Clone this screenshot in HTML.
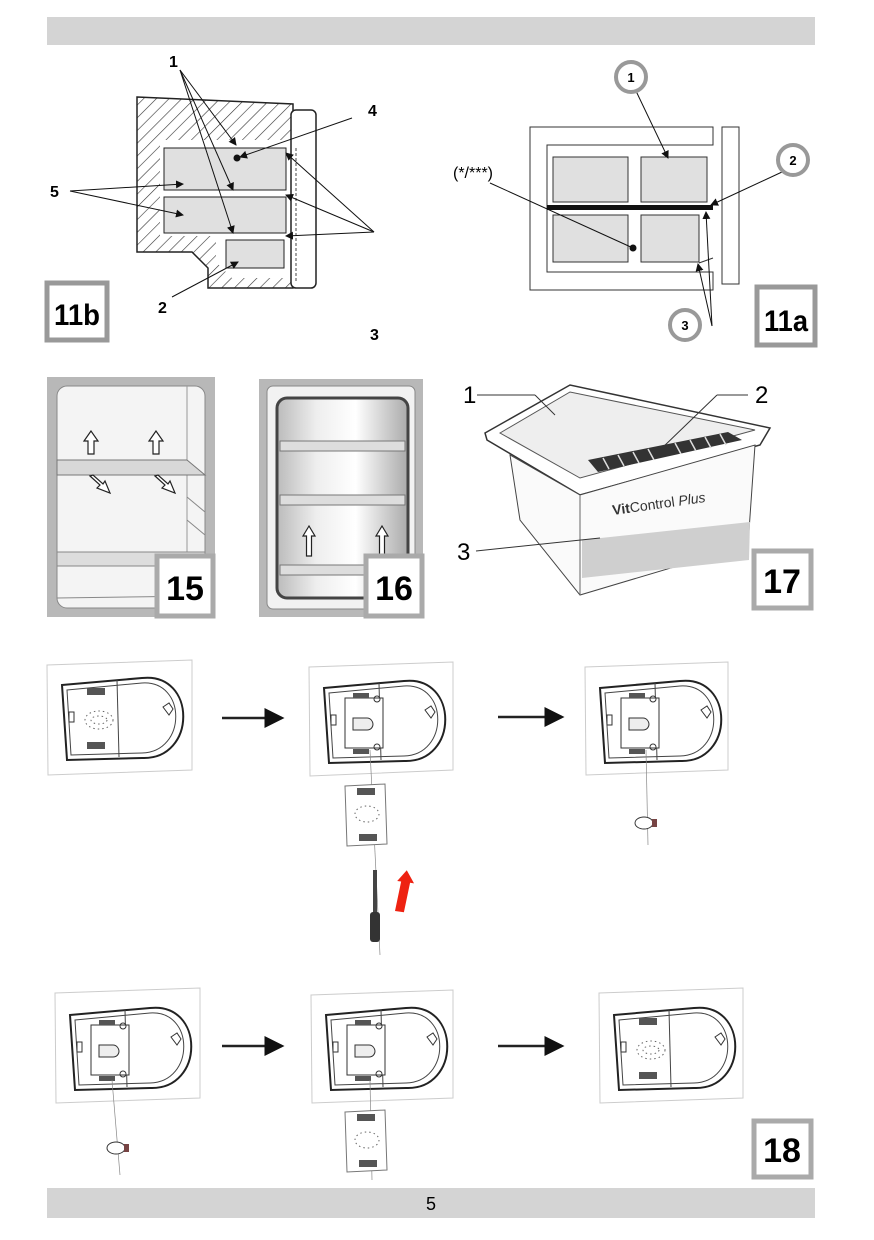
<!DOCTYPE html>
<html><head><meta charset="utf-8"><style>
html,body{margin:0;padding:0;background:#fff}
svg{display:block}
text{font-family:"Liberation Sans",sans-serif}
.lb{font-family:"Liberation Sans",sans-serif;font-weight:bold}
</style></head><body>
<svg width="874" height="1240" viewBox="0 0 874 1240" xmlns="http://www.w3.org/2000/svg">
<defs>
<pattern id="hatch" width="9" height="9" patternUnits="userSpaceOnUse" patternTransform="rotate(45)">
<rect width="9" height="9" fill="#fff"/><line x1="0" y1="0" x2="0" y2="9" stroke="#333" stroke-width="1.2"/></pattern>
<linearGradient id="met" x1="0" x2="1"><stop offset="0" stop-color="#bbb"/><stop offset=".3" stop-color="#eee"/><stop offset=".6" stop-color="#fff"/><stop offset="1" stop-color="#aaa"/></linearGradient>
<marker id="ar" markerWidth="8" markerHeight="8" refX="7" refY="4" orient="auto"><path d="M0,0 L8,4 L0,8z" fill="#111"/></marker>
<g id="lampbase">
<path d="M15,25 L95,18 C150,12 150,100 95,98 L20,100 Z" fill="#fff" stroke="#222" stroke-width="2"/>
<path d="M20,30 L95,23 C140,20 140,92 95,93 L24,95 Z" fill="none" stroke="#444" stroke-width="1"/>
<line x1="70" y1="20" x2="72" y2="97" stroke="#444"/>
<path d="M116,47 l6,-4 l4,6 l-4,6 z" fill="none" stroke="#333"/>
<rect x="22" y="52" width="5" height="10" fill="none" stroke="#333"/>
</g>
<g id="lampclosed">
<use href="#lampbase"/>
<rect x="40" y="28" width="18" height="7" fill="#555"/>
<rect x="40" y="82" width="18" height="7" fill="#555"/>
<ellipse cx="52" cy="60" rx="14" ry="9" fill="none" stroke="#666" stroke-dasharray="1.5 3"/>
<ellipse cx="52" cy="60" rx="8" ry="4" fill="none" stroke="#666" stroke-dasharray="1.5 3"/>
</g>
<g id="lampopen">
<use href="#lampbase"/>
<rect x="36" y="35" width="38" height="50" fill="#fff" stroke="#333"/>
<path d="M44,55 h14 c4,0 6,4 6,6 c0,3 -2,6 -6,6 h-14 z" fill="#eee" stroke="#333"/>
<rect x="44" y="30" width="16" height="5" fill="#555"/>
<rect x="44" y="86" width="16" height="5" fill="#555"/>
<circle cx="68" cy="36" r="3" fill="none" stroke="#333"/><circle cx="68" cy="84" r="3" fill="none" stroke="#333"/>
</g>
<g id="cover">
<path d="M0,2 L40,0 L42,60 L2,62 Z" fill="#fff" stroke="#777"/>
<rect x="12" y="4" width="18" height="7" fill="#555"/>
<rect x="14" y="50" width="18" height="7" fill="#555"/>
<ellipse cx="22" cy="30" rx="12" ry="8" fill="none" stroke="#666" stroke-dasharray="1.5 3"/>
</g>
<g id="bulb"><ellipse cx="0" cy="0" rx="9" ry="6" fill="#fff" stroke="#333"/><rect x="8" y="-4" width="5" height="8" fill="#744"/></g>
</defs>

<rect x="47" y="17" width="768" height="28" fill="#d4d4d4"/>
<rect x="47" y="1188" width="768" height="30" fill="#d4d4d4"/>
<text x="431" y="1210" font-size="18" text-anchor="middle">5</text>

<!-- 11b -->
<path d="M137,97 L293,104 L293,288 L208,288 L208,268 L192,252 L137,252 Z" fill="url(#hatch)" stroke="#222" stroke-width="1.5"/>
<rect x="160" y="140" width="131" height="96" fill="#fff"/>
<path d="M216,236 L291,236 L291,278 L232,278 L216,262 Z" fill="#fff"/>
<rect x="164" y="148" width="122" height="42" fill="#e0e0e0" stroke="#222"/>
<rect x="164" y="197" width="122" height="36" fill="#e0e0e0" stroke="#222"/>
<rect x="226" y="240" width="58" height="28" fill="#e0e0e0" stroke="#222"/>
<rect x="291" y="110" width="25" height="178" rx="5" fill="#fff" stroke="#222" stroke-width="1.5"/>
<line x1="296" y1="148" x2="296" y2="282" stroke="#444" stroke-dasharray="3 2"/>
<circle cx="237" cy="158" r="3.5" fill="#111"/>
<g stroke="#111" stroke-width="1" fill="none" marker-end="url(#ar)">
<line x1="180" y1="70" x2="236" y2="145"/><line x1="180" y1="70" x2="233" y2="190"/><line x1="180" y1="70" x2="233" y2="233"/>
<line x1="352" y1="118" x2="240" y2="157"/>
<line x1="70" y1="191" x2="183" y2="184"/><line x1="70" y1="191" x2="183" y2="215"/>
<line x1="172" y1="297" x2="238" y2="262"/>
<line x1="374" y1="232" x2="286" y2="153"/><line x1="374" y1="232" x2="286" y2="195"/><line x1="374" y1="232" x2="286" y2="236"/>
</g>
<text class="lb" x="169" y="67" font-size="16">1</text>
<text class="lb" x="368" y="116" font-size="16">4</text>
<text class="lb" x="50" y="197" font-size="16">5</text>
<text class="lb" x="158" y="313" font-size="16">2</text>
<text class="lb" x="370" y="340" font-size="16">3</text>
<rect x="47" y="283" width="60" height="57" fill="#fff" stroke="#999" stroke-width="5"/>
<text class="lb" x="77" y="325" font-size="30" text-anchor="middle" textLength="46" lengthAdjust="spacingAndGlyphs">11b</text>

<!-- 11a -->
<path d="M530,127 L713,127 L713,145 L547,145 L547,272 L713,272 L713,290 L530,290 Z" fill="#fff" stroke="#333"/>
<rect x="722" y="127" width="17" height="157" fill="#fff" stroke="#333"/>
<rect x="553" y="157" width="75" height="45" fill="#e0e0e0" stroke="#333"/>
<rect x="641" y="157" width="66" height="45" fill="#e0e0e0" stroke="#333"/>
<rect x="553" y="215" width="75" height="47" fill="#e0e0e0" stroke="#333"/>
<rect x="641" y="215" width="58" height="47" fill="#e0e0e0" stroke="#333"/>
<rect x="547" y="205" width="166" height="5" fill="#111"/>
<line x1="713" y1="258" x2="699" y2="263" stroke="#333"/>
<circle cx="633" cy="248" r="3.5" fill="#111"/>
<g stroke="#111" fill="none" marker-end="url(#ar)">
<line x1="636" y1="91" x2="668" y2="158"/>
<line x1="782" y1="172" x2="711" y2="205"/>
<line x1="712" y1="326" x2="706" y2="212"/><line x1="712" y1="326" x2="698" y2="264"/>
</g>
<line x1="490" y1="183" x2="633" y2="248" stroke="#111"/>
<text x="453" y="178" font-size="16">(*/***)</text>
<g fill="#fff" stroke="#999" stroke-width="4"><circle cx="631" cy="77" r="15"/><circle cx="793" cy="160" r="15"/><circle cx="685" cy="325" r="15"/></g>
<text class="lb" x="631" y="82" font-size="13" text-anchor="middle">1</text>
<text class="lb" x="793" y="165" font-size="13" text-anchor="middle">2</text>
<text class="lb" x="685" y="330" font-size="13" text-anchor="middle">3</text>
<rect x="757" y="287" width="58" height="58" fill="#fff" stroke="#999" stroke-width="5"/>
<text class="lb" x="786" y="331" font-size="30" text-anchor="middle" textLength="44" lengthAdjust="spacingAndGlyphs">11a</text>

<!-- 15 -->
<rect x="47" y="377" width="168" height="240" fill="#b8b8b8"/>
<rect x="57" y="386" width="148" height="222" rx="10" fill="#f4f4f4" stroke="#888"/>
<line x1="187" y1="386" x2="187" y2="555" stroke="#999"/>
<path d="M57,460 L187,460 L205,475 L57,475 Z" fill="#d8d8d8" stroke="#777"/>
<path d="M187,497 L205,512 M187,520 L205,535" stroke="#888"/>
<rect x="57" y="552" width="148" height="14" fill="#ddd" stroke="#888"/>
<line x1="57" y1="598" x2="205" y2="596" stroke="#888"/>
<g fill="#fff" stroke="#222" stroke-width="1.2">
<path d="M91,431 l-7,10 h4 v13 h6 v-13 h4 z"/><path d="M156,431 l-7,10 h4 v13 h6 v-13 h4 z"/>
<path d="M90,476 l10,9 l-3,3 l13,5 l-5,-12 l-2,3 l-10,-9z"/><path d="M155,476 l10,9 l-3,3 l13,5 l-5,-12 l-2,3 l-10,-9z"/>
</g>
<rect x="157" y="556" width="56" height="60" fill="#fff" stroke="#aaa" stroke-width="5"/>
<text class="lb" x="185" y="600" font-size="34" text-anchor="middle">15</text>

<!-- 16 -->
<rect x="259" y="379" width="164" height="238" fill="#b8b8b8"/>
<rect x="267" y="386" width="148" height="223" rx="6" fill="#f2f2f2" stroke="#888"/>
<rect x="277" y="398" width="131" height="200" rx="10" fill="url(#met)" stroke="#444" stroke-width="3"/>
<g fill="#ddd" stroke="#777"><rect x="280" y="441" width="125" height="10"/><rect x="280" y="495" width="125" height="10"/><rect x="280" y="565" width="125" height="10"/></g>
<g fill="#fff" stroke="#222" stroke-width="1.2">
<path d="M309,526 l-6,10 h3.5 v20 h5 v-20 h3.5 z"/><path d="M382,526 l-6,10 h3.5 v20 h5 v-20 h3.5 z"/>
</g>
<rect x="366" y="556" width="56" height="60" fill="#fff" stroke="#aaa" stroke-width="5"/>
<text class="lb" x="394" y="600" font-size="34" text-anchor="middle">16</text>

<!-- 17 -->
<path d="M485,433 L570,385 L770,428 L760,445 L580,495 L487,440 Z" fill="#fff" stroke="#333" stroke-width="1.5"/>
<path d="M500,433 L570,392 L755,430 L580,478 Z" fill="#eee" stroke="#555"/>
<path d="M510,455 L580,495 L755,445 L748,545 L580,595 L520,520 Z" fill="#fafafa" stroke="#444"/>
<path d="M580,495 L580,595" stroke="#666"/>
<path d="M582,540 L750,522 L749,560 L582,578 Z" fill="#cfcfcf"/>
<path d="M588,460 L728,432 L742,440 L598,472 Z" fill="#333"/>
<g stroke="#ddd" stroke-width="1.5"><line x1="603" y1="458" x2="609" y2="469"/><line x1="618" y1="455" x2="624" y2="466"/><line x1="633" y1="452" x2="639" y2="463"/><line x1="648" y1="449" x2="654" y2="460"/><line x1="675" y1="443" x2="681" y2="454"/><line x1="690" y1="440" x2="696" y2="451"/><line x1="705" y1="437" x2="711" y2="448"/><line x1="720" y1="434" x2="726" y2="445"/></g>
<text x="613" y="515" font-size="14" fill="#333" transform="rotate(-8 613 515)"><tspan font-weight="bold">Vit</tspan>Control <tspan font-style="italic">Plus</tspan></text>
<line x1="477" y1="395" x2="535" y2="395" stroke="#333"/><line x1="535" y1="395" x2="555" y2="415" stroke="#333"/>
<line x1="717" y1="395" x2="748" y2="395" stroke="#333"/><line x1="717" y1="395" x2="660" y2="450" stroke="#333"/>
<line x1="476" y1="551" x2="600" y2="538" stroke="#333"/>
<text x="463" y="403" font-size="24">1</text>
<text x="755" y="403" font-size="24">2</text>
<text x="457" y="560" font-size="24">3</text>
<rect x="754" y="551" width="57" height="57" fill="#fff" stroke="#aaa" stroke-width="5"/>
<text class="lb" x="782" y="593" font-size="34" text-anchor="middle">17</text>

<!-- 18 -->
<g fill="#fff" stroke="#ccc">
<path d="M47,665 L192,660 L192,770 L48,775 Z"/>
<path d="M309,667 L453,662 L453,770 L310,776 Z"/>
<path d="M585,667 L728,662 L728,770 L586,775 Z"/>
<path d="M55,993 L200,988 L200,1098 L56,1103 Z"/>
<path d="M311,995 L453,990 L453,1098 L312,1103 Z"/>
<path d="M599,993 L743,988 L743,1098 L600,1103 Z"/>
</g>
<use href="#lampclosed" x="47" y="660"/>
<use href="#lampopen" x="309" y="663"/>
<use href="#lampopen" x="585" y="663"/>
<use href="#lampopen" x="55" y="990"/>
<use href="#lampopen" x="311" y="990"/>
<use href="#lampclosed" x="599" y="990"/>
<g stroke="#222" stroke-width="2.5" marker-end="url(#ar)">
<line x1="222" y1="718" x2="282" y2="718"/><line x1="498" y1="717" x2="562" y2="717"/>
<line x1="222" y1="1046" x2="282" y2="1046"/><line x1="498" y1="1046" x2="562" y2="1046"/>
</g>
<line x1="370" y1="750" x2="380" y2="955" stroke="#888" stroke-width=".7"/>
<use href="#cover" x="345" y="784"/>
<rect x="373" y="870" width="4" height="45" fill="#444"/>
<rect x="370" y="912" width="10" height="30" rx="3" fill="#333"/>
<path d="M404,870 l-8,12 h4 l-2,30 h9 l2,-30 h4 z" fill="#e21" transform="rotate(8 404 890)"/>
<line x1="646" y1="750" x2="648" y2="845" stroke="#888" stroke-width=".7"/>
<use href="#bulb" x="644" y="823"/>
<line x1="112" y1="1080" x2="120" y2="1175" stroke="#888" stroke-width=".7"/>
<use href="#bulb" x="116" y="1148"/>
<line x1="370" y1="1080" x2="372" y2="1180" stroke="#888" stroke-width=".7"/>
<use href="#cover" x="345" y="1110"/>
<rect x="754" y="1121" width="57" height="56" fill="#fff" stroke="#aaa" stroke-width="5"/>
<text class="lb" x="782" y="1162" font-size="34" text-anchor="middle">18</text>
</svg>
</body></html>
